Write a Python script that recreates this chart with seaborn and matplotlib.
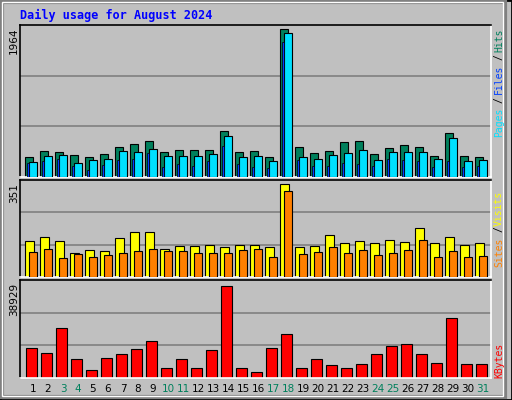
import numpy as np
import matplotlib
matplotlib.use('Agg')
import matplotlib.pyplot as plt
import seaborn as sns
from matplotlib.patches import Rectangle

days = list(range(1, 32))
weekend = [3, 4, 10, 11, 17, 18, 24, 25, 31]

# values
hits = [272, 351, 338, 298, 272, 311, 404, 444, 484, 338, 364, 364, 364, 617, 338, 351, 272, 1964, 404, 325, 351, 471, 484, 311, 391, 431, 404, 284, 591, 284, 272]
files = [204, 284, 298, 191, 231, 244, 351, 338, 378, 284, 284, 284, 311, 551, 271, 284, 218, 1911, 271, 244, 298, 324, 364, 231, 338, 338, 338, 244, 524, 218, 231]
pages = [191, 218, 244, 151, 97, 164, 231, 244, 324, 137, 178, 151, 218, 417, 178, 137, 124, 1791, 231, 151, 151, 191, 178, 151, 244, 231, 218, 137, 218, 137, 151]
sites = [137, 153, 137, 92, 103, 99, 149, 172, 172, 107, 118, 118, 122, 115, 122, 122, 115, 351, 115, 118, 157, 130, 137, 130, 141, 134, 184, 130, 153, 122, 130]
visits = [95, 107, 73, 88, 76, 84, 92, 99, 107, 99, 99, 92, 92, 92, 103, 107, 76, 324, 88, 95, 115, 92, 103, 84, 92, 103, 141, 76, 99, 76, 80]
kbytes = [12929, 10798, 21452, 8238, 3551, 8664, 10372, 12503, 15912, 4403, 8238, 4403, 12077, 38929, 4403, 2699, 12929, 18895, 4403, 8238, 5681, 4403, 6107, 10372, 13781, 14634, 10372, 6534, 25713, 6107, 6107]

sns.set_theme(style='white')
plt.rcParams['font.family'] = ['DejaVu Sans Mono', 'DejaVu Sans']

fig = plt.figure(figsize=(5.12, 4.0), dpi=100)
fig.patch.set_facecolor('#c0c0c0')
W, H = 512, 400

def fx(px):
    return px / W

def fy(py):
    return 1 - py / H

# raised border
fig.add_artist(Rectangle((0, 0), 1, 1, transform=fig.transFigure, fill=False, ec='black', lw=2))
fig.add_artist(Rectangle((fx(2), fy(397)), fx(503), fy(2) - fy(397), transform=fig.transFigure,
                         fill=False, ec='#808080', lw=3))
fig.add_artist(Rectangle((fx(2), fy(396)), fx(501), fy(2) - fy(396), transform=fig.transFigure,
                         fill=False, ec='white', lw=1))

x = np.array(days, dtype=float)
edge = dict(edgecolor='black', linewidth=0.8)

def panel(top, bot):
    ax = fig.add_axes([fx(20), fy(bot), fx(491) - fx(20), fy(top) - fy(bot)])
    ax.set_facecolor('#c0c0c0')
    ax.set_xlim(0.13, 31.53)
    for s in ['top', 'left']:
        ax.spines[s].set_color('black')
    for s in ['bottom', 'right']:
        ax.spines[s].set_color('white')
    for s in ax.spines.values():
        s.set_linewidth(1.2)
    ax.set_xticks([])
    ax.set_yticks([])
    return ax

def grid(ax, top):
    ax.set_ylim(0, top)
    for f in (1 / 3, 2 / 3):
        ax.axhline(top * f, color='#808080', lw=1.2, zorder=0)

ax1 = panel(25, 177)
grid(ax1, 1964 * 1.03)
ax1.bar(x - 0.27, hits, width=0.49, color='#00805c', zorder=2, **edge)
ax1.bar(x, files, width=0.49, color='#00e0ff', zorder=3, **edge)
ax1.bar(x - 0.33, pages, width=0.1, color='#0040ff', zorder=4, edgecolor='black', linewidth=0.5)

ax2 = panel(180, 277)
grid(ax2, 351 * 1.045)
ax2.bar(x - 0.23, sites, width=0.55, color='#ffff00', zorder=2, **edge)
ax2.bar(x, visits, width=0.48, color='#ff8000', zorder=3, **edge)

ax3 = panel(280, 378)
grid(ax3, 38929 * 1.07)
ax3.bar(x - 0.1, kbytes, width=0.68, color='#ff0000', zorder=2, **edge)

for d in days:
    fig.text(fx(33 + (d - 1) * 15), fy(389), str(d), ha='center', va='center', fontsize=7.5,
             color='#00805c' if d in weekend else 'black', family=['DejaVu Sans'])

fig.text(fx(20), fy(15), 'Daily usage for August 2024', ha='left', va='center', fontsize=8.5,
         color='#0000ff', fontweight='bold')

for val, ytop in [('1964', 28), ('351', 183), ('38929', 283)]:
    fig.text(fx(14), fy(ytop), val, rotation=90, ha='center', va='top', fontsize=7.5,
             color='black', family=['DejaVu Sans'])

def side(parts):
    for txt, col, ymid in parts:
        fig.text(fx(499), fy(ymid), txt, rotation=90, ha='center', va='center', fontsize=7, color=col)

side([('Hits', '#00805c', 40), ('/', 'black', 57), ('Files', '#0040ff', 79), ('/', 'black', 100),
      ('Pages', '#00e0ff', 122),
      ('Visits', '#ffff00', 208), ('/', 'black', 229), ('Sites', '#ff8000', 252),
      ('KBytes', '#ff0000', 360)])

fig.savefig('out.png', dpi=100, facecolor=fig.get_facecolor())
